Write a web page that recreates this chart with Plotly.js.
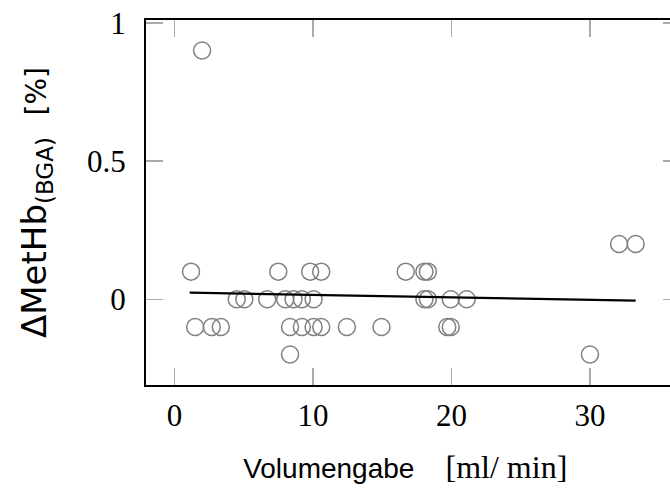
<!DOCTYPE html>
<html><head><meta charset="utf-8">
<script src="https://cdn.plot.ly/plotly-3.0.1.min.js"></script>
<style>html,body{margin:0;padding:0;overflow:hidden;background:#fff}#chart{width:700px;height:488px}</style>
</head><body><div id="chart"></div>
<script>
// Volumengabe [ml/min] vs ΔMetHb(BGA) [%]
const volX = [2.0,
  1.2, 7.5, 9.8, 10.6, 16.7, 18.05, 18.3,
  32.1, 33.3,
  4.5, 5.05, 6.7, 8.0, 8.6, 9.2, 10.05, 18.05, 18.3, 19.95, 21.1,
  1.5, 2.7, 3.35, 8.35, 9.2, 10.05, 10.6, 12.45, 14.95, 19.7, 19.95,
  8.35, 30.0];
const methbY = [0.9,
  0.1, 0.1, 0.1, 0.1, 0.1, 0.1, 0.1,
  0.2, 0.2,
  0, 0, 0, 0, 0, 0, 0, 0, 0, 0, 0,
  -0.1, -0.1, -0.1, -0.1, -0.1, -0.1, -0.1, -0.1, -0.1, -0.1, -0.1,
  -0.2, -0.2];
const trendX = [1.1, 33.3];
const trendY = [0.024, -0.005];
const xTicks = [0, 10, 20, 30];
const yTicks = [0, 0.5, 1];
const yTickText = ['0', '0.5', '1'];

const serif = '"Liberation Serif", "DejaVu Serif", serif';

const data = [
  {x: volX, y: methbY, type: 'scatter', mode: 'markers',
   marker: {symbol: 'circle-open', size: 17, color: '#808080', line: {width: 1.5, color: '#808080'}},
   hoverinfo: 'skip'},
  {x: trendX, y: trendY, type: 'scatter', mode: 'lines',
   line: {color: '#000', width: 2.2}, hoverinfo: 'skip'}
];

const axisCommon = {
  showgrid: false, zeroline: false, showline: true, linecolor: '#000', linewidth: 2,
  mirror: 'allticks', ticks: 'inside', ticklen: 17, tickwidth: 1.5, tickcolor: '#aaaaaa',
  tickfont: {family: serif, size: 31, color: '#000'}
};

const layout = {
  width: 700, height: 488,
  margin: {l: 145.5, r: 20, t: 20, b: 103},
  paper_bgcolor: '#fff', plot_bgcolor: '#fff',
  showlegend: false,
  xaxis: Object.assign({}, axisCommon, {
    range: [-2.05, 36.5], tickvals: xTicks, ticktext: xTicks.map(String),
    ticklabelstandoff: 2,
    title: {text: 'Volumengabe&nbsp;&nbsp;&nbsp;&nbsp;<span style="font-family:Liberation Serif;font-size:32px">[ml/ min]</span>&nbsp;&nbsp;',
            font: {family: '"Liberation Sans", sans-serif', size: 28, color: '#000'}, standoff: 26}
  }),
  yaxis: Object.assign({}, axisCommon, {
    range: [-0.31, 1.01], tickvals: yTicks, ticktext: yTickText,
    ticklabelstandoff: 12,
    title: {text: 'ΔMetHb<sub><span style="font-size:23px">(BGA)</span></sub>&nbsp;&nbsp;<span style="font-size:28px">[%]</span>',
            font: {family: '"DejaVu Sans", sans-serif', size: 34, color: '#000'}, standoff: 30}
  })
};

Plotly.newPlot('chart', data, layout, {staticPlot: true, displayModeBar: false});
</script></body></html>
